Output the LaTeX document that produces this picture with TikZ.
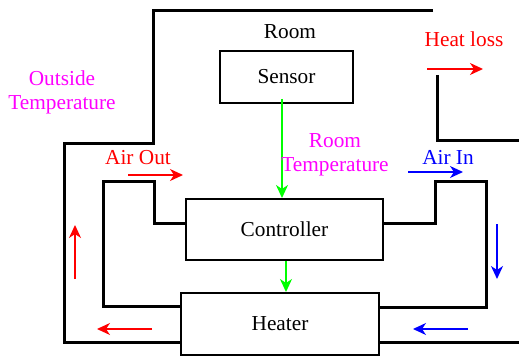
\documentclass[tikz,border=0pt]{standalone}
\usepackage{fontspec}
\setmainfont{Liberation Serif}
\usetikzlibrary{positioning,calc,arrows.meta}
\definecolor{sigred}{HTML}{FF0000}
\definecolor{sigblue}{HTML}{0000FF}
\definecolor{siggreen}{HTML}{00FF00}
\definecolor{labmag}{HTML}{FF00FF}
\tikzset{
  wall/.style={line width=3pt,line join=miter},
  block/.style={rectangle,draw,line width=2pt,fill=white,inner sep=0,font=\fontsize{21.3}{25}\selectfont},
  lab/.style={font=\fontsize{21.3}{24}\selectfont,align=center,inner sep=0},
  flow/.style={-{Stealth[length=13pt,width=12pt,inset=4pt]},line width=1.5pt},
  sig/.style={flow,siggreen},
}
\begin{document}
\begin{tikzpicture}[x=1pt,y=-1pt]
  \useasboundingbox (0,0) rectangle (519,358);
  % blocks
  \node[block,minimum width=133pt,minimum height=52pt] (sensor) at (286.5,77) {Sensor};
  \node[block,minimum width=197pt,minimum height=61pt] (ctrl) at (284.5,229.5) {Controller};
  \node[block,minimum width=198pt,minimum height=62pt] (heater) at (280,324) {Heater};
  % room walls
  \draw[wall] (433,11) -- (153,11) -- (153,144) -- (64,144) -- (64,342) -- (heater.west |- 0,342);
  \draw[wall] (437,75) -- (437,141) -- (519,141);
  \draw[wall] (heater.east |- 0,342) -- (519,342);
  % ducts
  \draw[wall] (ctrl.west |- 0,223) -- (154,223) -- (154,182) -- (103,182) -- (103,306) -- (heater.west |- 0,306);
  \draw[wall] (ctrl.east |- 0,223) -- (435,223) -- (435,182) -- (486,182) -- (486,307) -- (heater.east |- 0,307);
  % redraw blocks on top of the walls
  \node[block,minimum width=133pt,minimum height=52pt] at (sensor) {Sensor};
  \node[block,minimum width=197pt,minimum height=61pt] at (ctrl) {Controller};
  \node[block,minimum width=198pt,minimum height=62pt] at (heater) {Heater};
  % signals
  \draw[sig] ([xshift=-4.5pt,yshift=5pt]sensor.south) -- ([xshift=-2.5pt]ctrl.north);
  \draw[sig] ([xshift=1.5pt]ctrl.south) -- ([xshift=6pt]heater.north);
  % air flow
  \draw[flow,sigred] (128,175) -- (183,175);
  \draw[flow,sigred] (75,279) -- (75,225);
  \draw[flow,sigred] (152,329) -- (97,329);
  \draw[flow,sigred] (427,69) -- (483,69);
  \draw[flow,sigblue] (408,172) -- (463,172);
  \draw[flow,sigblue] (497,224) -- (497,279);
  \draw[flow,sigblue] (468,329) -- (413,329);
  % labels
  \node[lab] (room) at (290,32) {Room};
  \node[lab,labmag] (outT) at (62,92) {Outside\\Temperature};
  \node[lab,labmag] (roomT) at (335,155) {Room\\Temperature};
  \node[lab,sigred] (airout) at (138,158) {Air Out};
  \node[lab,sigblue] (airin) at (448,157) {Air In};
  \node[lab,sigred] (loss) at (464,39) {Heat loss};
\end{tikzpicture}
\end{document}
